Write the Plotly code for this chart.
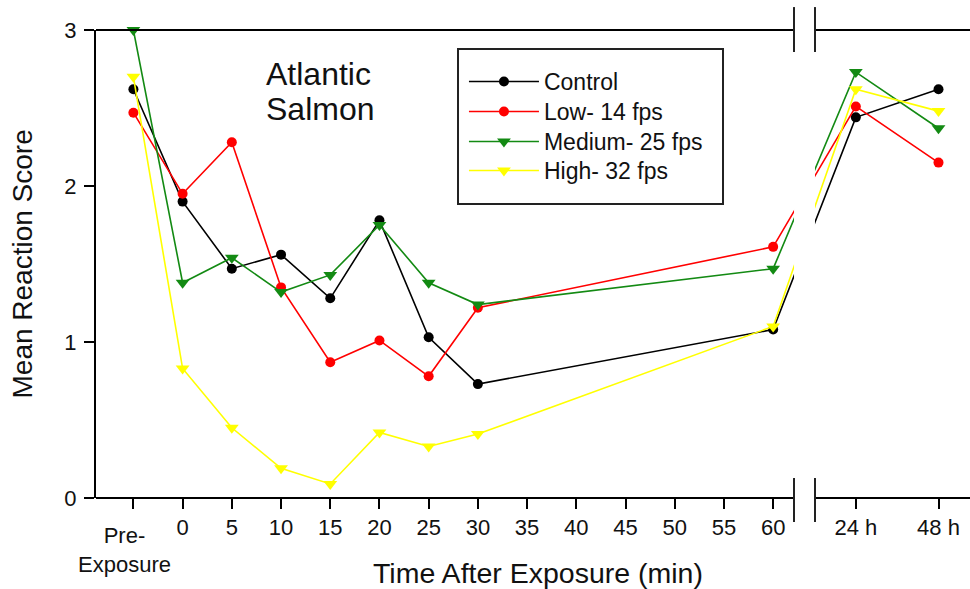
import plotly.graph_objects as go

# Sampling times: pre-exposure, minutes after exposure, then 24 h and 48 h
sample_times = ["Pre", "0", "5", "10", "15", "20", "25", "30", "60", "24 h", "48 h"]
minute_ticks = ["0", "5", "10", "15", "20", "25", "30", "35", "40", "45", "50", "55", "60"]
late_ticks = ["24 h", "48 h"]

# Mean reaction scores per treatment group
control = [2.62, 1.90, 1.47, 1.56, 1.28, 1.78, 1.03, 0.73, 1.08, 2.44, 2.62]
low_14 = [2.47, 1.95, 2.28, 1.35, 0.87, 1.01, 0.78, 1.22, 1.61, 2.51, 2.15]
medium_25 = [3.00, 1.38, 1.54, 1.32, 1.43, 1.75, 1.38, 1.24, 1.47, 2.73, 2.37]
high_32 = [2.70, 0.83, 0.45, 0.19, 0.09, 0.42, 0.33, 0.41, 1.10, 2.62, 2.48]

series = [
    ("Control", control, "#000000", "circle", 10),
    ("Low- 14 fps", low_14, "#ff0000", "circle", 10),
    ("Medium- 25 fps", medium_25, "#138a13", "triangle-down", 12),
    ("High- 32 fps", high_32, "#ffff00", "triangle-down", 12),
]

# Broken time axis: minutes on a linear scale, the pre-exposure sample one
# step before zero, and the 24 h / 48 h samples placed beyond the break.
X_MIN, X_MAX = -8.8, 80.0
BREAK_LO, BREAK_HI = 62.12, 64.25
LATE_POS = {"24 h": 68.4, "48 h": 76.8}


def axis_pos(label):
    if label == "Pre":
        return -5.0
    if label in LATE_POS:
        return LATE_POS[label]
    return float(label)


xs = [axis_pos(t) for t in sample_times]

FONT = "Liberation Sans, Arial, sans-serif"
INK = "#111111"

# one single-entry legend per series, stacked inside a shared frame
legend_ids = ["legend", "legend2", "legend3", "legend4"]
legend_tops = [0.9359, 0.8718, 0.8077, 0.7457]

fig = go.Figure()
for (name, values, color, symbol, size), lid in zip(series, legend_ids):
    fig.add_trace(go.Scatter(
        x=xs, y=values, name=name, mode="lines+markers",
        line=dict(color=color, width=1.6),
        marker=dict(color=color, symbol=symbol, size=size),
        cliponaxis=False, legend=lid,
    ))

tickvals = [axis_pos("Pre")] + [axis_pos(t) for t in minute_ticks] + [axis_pos(t) for t in late_ticks]
ticktext = [""] + minute_ticks + late_ticks

shapes = []
# blank band where the time axis is broken
shapes.append(dict(type="rect", xref="x", yref="paper", x0=BREAK_LO, x1=BREAK_HI,
                   y0=-0.01, y1=1.01, fillcolor="white", line=dict(width=0), layer="above"))
# bottom and top frame lines, split at the break
for yy in (0, 1):
    shapes.append(dict(type="line", xref="x", yref="paper", x0=X_MIN, x1=BREAK_LO,
                       y0=yy, y1=yy, line=dict(color="black", width=2), layer="above"))
    shapes.append(dict(type="line", xref="x", yref="paper", x0=BREAK_HI, x1=X_MAX,
                       y0=yy, y1=yy, line=dict(color="black", width=2), layer="above"))
# break marks
for xb in (BREAK_LO, BREAK_HI):
    shapes.append(dict(type="line", xref="x", yref="paper", x0=xb, x1=xb,
                       y0=0.953, y1=1.049, line=dict(color="#222222", width=2), layer="above"))
    shapes.append(dict(type="line", xref="x", yref="paper", x0=xb, x1=xb,
                       y0=-0.0513, y1=0.0427, line=dict(color="#222222", width=2), layer="above"))
# legend frame
shapes.append(dict(type="rect", xref="paper", yref="paper", x0=0.4142, x1=0.7174,
                   y0=0.6282, y1=0.9594, line=dict(color="#222222", width=2),
                   fillcolor="rgba(0,0,0,0)", layer="above"))

annotations = [
    dict(text="Pre-<br>Exposure", x=axis_pos("Pre"), xref="x", xshift=-9,
         y=-0.05, yref="paper", yanchor="top", xanchor="center", showarrow=False,
         font=dict(family=FONT, size=22, color=INK)),
    dict(text="Time After Exposure (min)", x=0.5052, xref="paper", y=-0.160, yref="paper",
         xanchor="center", yanchor="middle", showarrow=False,
         font=dict(family=FONT, size=28.5, color=INK)),
    dict(text="Mean Reaction Score", x=(21.5 - 96) / 874, xref="paper", y=0.5, yref="paper",
         textangle=-90, xanchor="center", yanchor="middle", showarrow=False,
         font=dict(family=FONT, size=28, color=INK)),
    dict(text="Atlantic", x=0.1927, xref="paper", y=0.905, yref="paper",
         xanchor="left", yanchor="middle", showarrow=False,
         font=dict(family=FONT, size=32, color=INK)),
    dict(text="Salmon", x=0.1927, xref="paper", y=0.832, yref="paper",
         xanchor="left", yanchor="middle", showarrow=False,
         font=dict(family=FONT, size=32, color=INK)),
]

legend_style = dict(x=0.421, xanchor="left", yanchor="top",
                    bgcolor="rgba(0,0,0,0)", borderwidth=0,
                    font=dict(family=FONT, size=23, color=INK),
                    itemwidth=70, tracegroupgap=0)
legends = {lid: dict(legend_style, y=top) for lid, top in zip(legend_ids, legend_tops)}

fig.update_layout(
    width=970, height=589,
    margin=dict(l=96, r=0, t=30, b=91),
    paper_bgcolor="white", plot_bgcolor="white",
    font=dict(family=FONT, size=22, color=INK),
    showlegend=True,
    shapes=shapes,
    annotations=annotations,
    **legends,
)
fig.update_xaxes(range=[X_MIN, X_MAX], tickvals=tickvals, ticktext=ticktext,
                 showline=False, showgrid=False, zeroline=False,
                 ticks="outside", ticklen=10, tickwidth=2, tickcolor="black",
                 tickfont=dict(family=FONT, size=22, color=INK))
fig.update_yaxes(range=[0, 3], tickvals=[0, 1, 2, 3],
                 showline=True, linewidth=2, linecolor="black",
                 showgrid=False, zeroline=False,
                 ticks="outside", ticklen=10, tickwidth=2, tickcolor="black",
                 ticklabelstandoff=3,
                 tickfont=dict(family=FONT, size=22, color=INK))

fig.write_html("out.html")
